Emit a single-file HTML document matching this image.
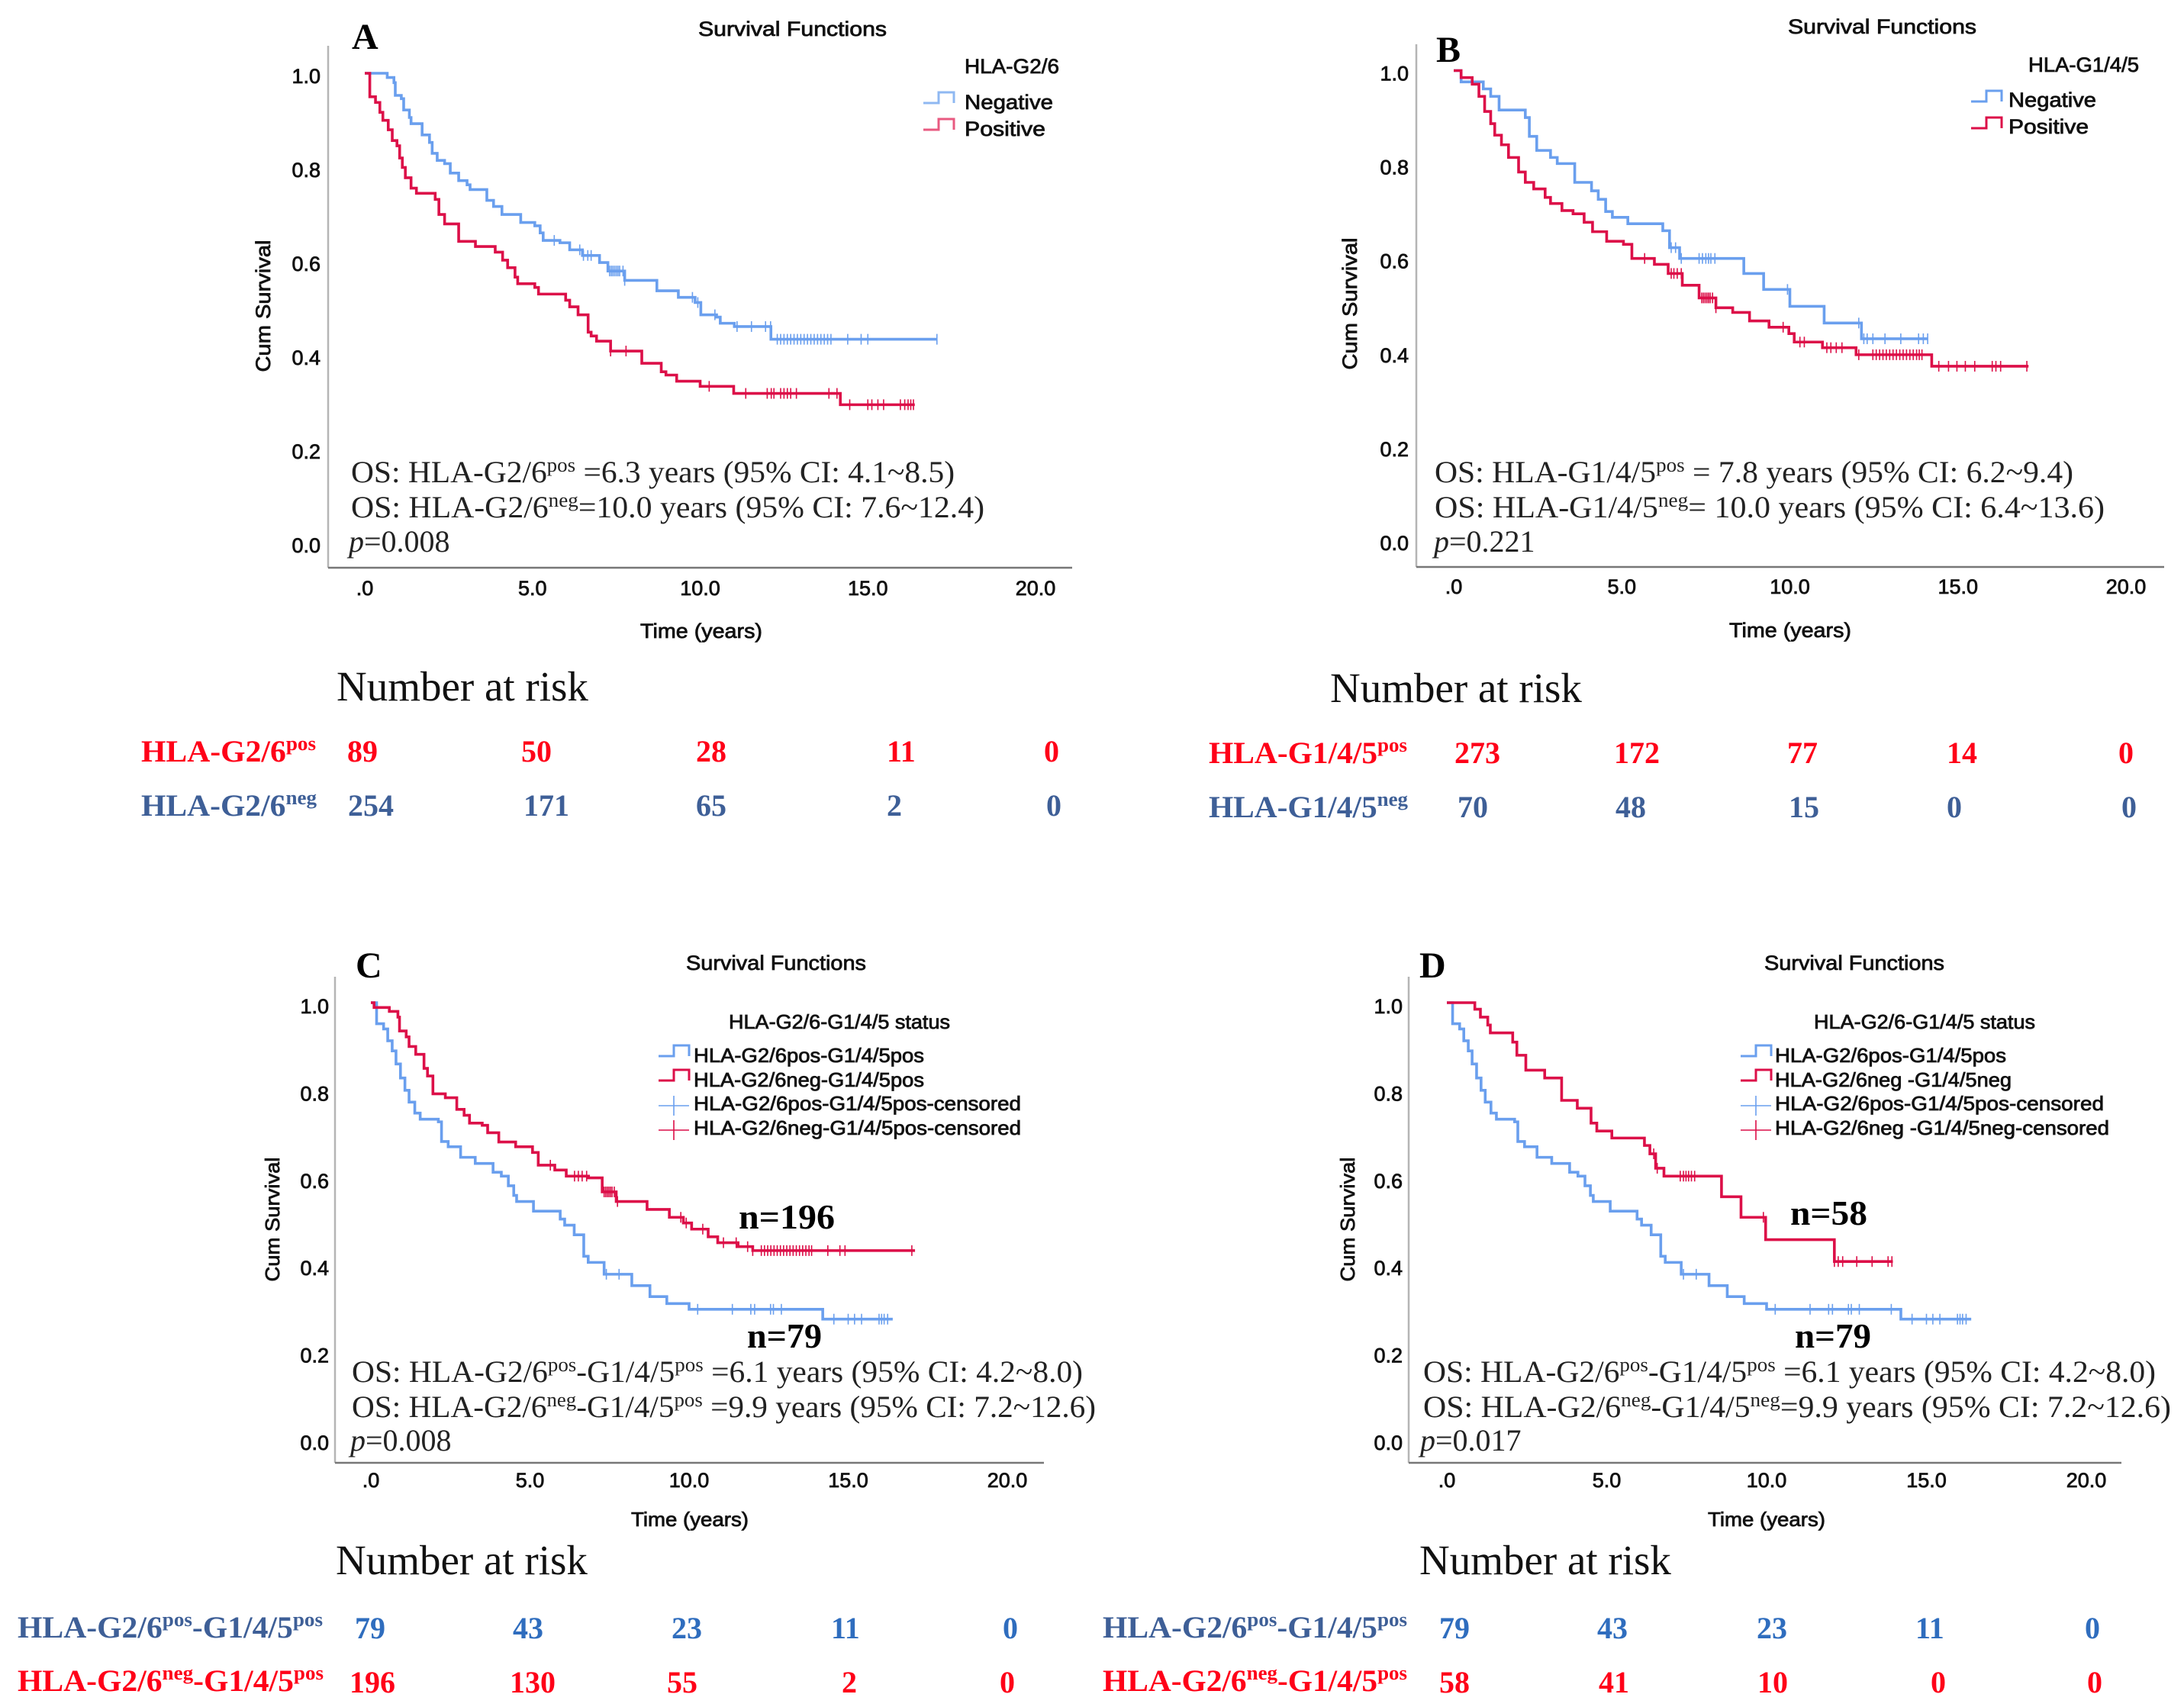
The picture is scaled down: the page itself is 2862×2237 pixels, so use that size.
<!DOCTYPE html>
<html lang="en">
<head>
<meta charset="utf-8">
<title>Survival Functions</title>
<style>
html,body{margin:0;padding:0;background:#fff;}
svg{display:block;}
.s{font-family:"Liberation Sans",sans-serif;fill:#111;stroke:#111;stroke-width:.8px;}
.o{font-family:"Liberation Serif",serif;font-size:40px;fill:#222;}
.h{font-family:"Liberation Serif",serif;font-size:55px;fill:#111;}
.l{font-family:"Liberation Serif",serif;font-size:48px;font-weight:bold;fill:#000;}
.n{font-family:"Liberation Serif",serif;font-size:46px;font-weight:bold;fill:#000;}
.r{font-family:"Liberation Serif",serif;font-size:40px;font-weight:bold;fill:#ff0018;}
.b{font-family:"Liberation Serif",serif;font-size:40px;font-weight:bold;fill:#3e5f97;}
.c{font-family:"Liberation Serif",serif;font-size:40px;font-weight:bold;fill:#2f6dbe;}
.t{font-size:27px;}
</style>
</head>
<body>
<svg id="fig" xmlns="http://www.w3.org/2000/svg" width="2862" height="2237" viewBox="0 0 2862 2237">
<rect width="2862" height="2237" fill="#fff"/>
<g id="marks"></g>

<!-- Panel A -->
<text class="l" x="461" y="64">A</text>
<text class="s" x="915" y="47" font-size="27" textLength="247" lengthAdjust="spacingAndGlyphs">Survival Functions</text>
<text class="s" font-size="27" text-anchor="middle" transform="translate(354,401) rotate(-90)" textLength="173" lengthAdjust="spacingAndGlyphs">Cum Survival</text>
<text class="s" x="839" y="836" font-size="27" textLength="160" lengthAdjust="spacingAndGlyphs">Time (years)</text>
<text class="s" x="1264" y="96" font-size="27" textLength="124" lengthAdjust="spacingAndGlyphs">HLA-G2/6</text>
<text class="s" x="1264" y="143" font-size="27" textLength="116" lengthAdjust="spacingAndGlyphs">Negative</text>
<text class="s" x="1264" y="178" font-size="27" textLength="106" lengthAdjust="spacingAndGlyphs">Positive</text>
<text class="o" x="460" y="632" textLength="791" lengthAdjust="spacingAndGlyphs">OS: HLA-G2/6<tspan dy="-14" font-size="26">pos</tspan><tspan dy="14"> =6.3 years (95% CI: 4.1~8.5)</tspan></text>
<text class="o" x="460" y="678" textLength="830" lengthAdjust="spacingAndGlyphs">OS: HLA-G2/6<tspan dy="-14" font-size="26">neg</tspan><tspan dy="14">=10.0 years (95% CI: 7.6~12.4)</tspan></text>
<text class="o" x="457" y="723"><tspan font-style="italic">p</tspan>=0.008</text>
<text class="h" x="441" y="918">Number at risk</text>
<text class="r" x="185" y="998" textLength="229" lengthAdjust="spacingAndGlyphs">HLA-G2/6<tspan dy="-15" font-size="26">pos</tspan></text>
<text class="b" x="185" y="1069" textLength="230" lengthAdjust="spacingAndGlyphs">HLA-G2/6<tspan dy="-15" font-size="26">neg</tspan></text>
<g class="r"><text x="455" y="998">89</text><text x="683" y="998">50</text><text x="912" y="998">28</text><text x="1162" y="998">11</text><text x="1368" y="998">0</text></g>
<g class="b"><text x="456" y="1069">254</text><text x="686" y="1069">171</text><text x="912" y="1069">65</text><text x="1162" y="1069">2</text><text x="1371" y="1069">0</text></g>

<!-- Panel B -->
<text class="l" x="1882" y="81">B</text>
<text class="s" x="2343" y="44" font-size="27" textLength="247" lengthAdjust="spacingAndGlyphs">Survival Functions</text>
<text class="s" font-size="27" text-anchor="middle" transform="translate(1778,398) rotate(-90)" textLength="173" lengthAdjust="spacingAndGlyphs">Cum Survival</text>
<text class="s" x="2266" y="835" font-size="27" textLength="160" lengthAdjust="spacingAndGlyphs">Time (years)</text>
<text class="s" x="2658" y="94" font-size="27" textLength="145" lengthAdjust="spacingAndGlyphs">HLA-G1/4/5</text>
<text class="s" x="2632" y="140" font-size="27" textLength="115" lengthAdjust="spacingAndGlyphs">Negative</text>
<text class="s" x="2632" y="175" font-size="27" textLength="105" lengthAdjust="spacingAndGlyphs">Positive</text>
<text class="o" x="1880" y="632" textLength="837" lengthAdjust="spacingAndGlyphs">OS: HLA-G1/4/5<tspan dy="-14" font-size="26">pos</tspan><tspan dy="14"> = 7.8 years (95% CI: 6.2~9.4)</tspan></text>
<text class="o" x="1880" y="678" textLength="878" lengthAdjust="spacingAndGlyphs">OS: HLA-G1/4/5<tspan dy="-14" font-size="26">neg</tspan><tspan dy="14">= 10.0 years (95% CI: 6.4~13.6)</tspan></text>
<text class="o" x="1879" y="723"><tspan font-style="italic">p</tspan>=0.221</text>
<text class="h" x="1743" y="920">Number at risk</text>
<text class="r" x="1584" y="1000" textLength="260" lengthAdjust="spacingAndGlyphs">HLA-G1/4/5<tspan dy="-15" font-size="26">pos</tspan></text>
<text class="b" x="1584" y="1071" textLength="261" lengthAdjust="spacingAndGlyphs">HLA-G1/4/5<tspan dy="-15" font-size="26">neg</tspan></text>
<g class="r"><text x="1906" y="1000">273</text><text x="2115" y="1000">172</text><text x="2342" y="1000">77</text><text x="2551" y="1000">14</text><text x="2776" y="1000">0</text></g>
<g class="b"><text x="1910" y="1071">70</text><text x="2117" y="1071">48</text><text x="2344" y="1071">15</text><text x="2551" y="1071">0</text><text x="2780" y="1071">0</text></g>

<!-- Panel C -->
<text class="l" x="466" y="1281">C</text>
<text class="s" x="899" y="1271" font-size="27" textLength="236" lengthAdjust="spacingAndGlyphs">Survival Functions</text>
<text class="s" font-size="26" text-anchor="middle" transform="translate(366,1598) rotate(-90)" textLength="163" lengthAdjust="spacingAndGlyphs">Cum Survival</text>
<text class="s" x="827" y="2000" font-size="26" textLength="154" lengthAdjust="spacingAndGlyphs">Time (years)</text>
<text class="s" x="955" y="1348" font-size="26" textLength="290" lengthAdjust="spacingAndGlyphs">HLA-G2/6-G1/4/5 status</text>
<text class="s" x="909" y="1392" font-size="26" textLength="302" lengthAdjust="spacingAndGlyphs">HLA-G2/6pos-G1/4/5pos</text>
<text class="s" x="909" y="1424" font-size="26" textLength="302" lengthAdjust="spacingAndGlyphs">HLA-G2/6neg-G1/4/5pos</text>
<text class="s" x="909" y="1455" font-size="26" textLength="429" lengthAdjust="spacingAndGlyphs">HLA-G2/6pos-G1/4/5pos-censored</text>
<text class="s" x="909" y="1487" font-size="26" textLength="429" lengthAdjust="spacingAndGlyphs">HLA-G2/6neg-G1/4/5pos-censored</text>
<text class="n" x="968" y="1610" textLength="126" lengthAdjust="spacingAndGlyphs">n=196</text>
<text class="n" x="979" y="1766" textLength="98" lengthAdjust="spacingAndGlyphs">n=79</text>
<text class="o" x="461" y="1811" textLength="958" lengthAdjust="spacingAndGlyphs">OS: HLA-G2/6<tspan dy="-14" font-size="26">pos</tspan><tspan dy="14">-G1/4/5</tspan><tspan dy="-14" font-size="26">pos</tspan><tspan dy="14"> =6.1 years (95% CI: 4.2~8.0)</tspan></text>
<text class="o" x="461" y="1857" textLength="975" lengthAdjust="spacingAndGlyphs">OS: HLA-G2/6<tspan dy="-14" font-size="26">neg</tspan><tspan dy="14">-G1/4/5</tspan><tspan dy="-14" font-size="26">pos</tspan><tspan dy="14"> =9.9 years (95% CI: 7.2~12.6)</tspan></text>
<text class="o" x="459" y="1901"><tspan font-style="italic">p</tspan>=0.008</text>
<text class="h" x="440" y="2063">Number at risk</text>
<text class="b" x="23" y="2146" textLength="400" lengthAdjust="spacingAndGlyphs">HLA-G2/6<tspan dy="-15" font-size="26">pos</tspan><tspan dy="15">-G1/4/5</tspan><tspan dy="-15" font-size="26">pos</tspan></text>
<text class="r" x="23" y="2216" textLength="401" lengthAdjust="spacingAndGlyphs">HLA-G2/6<tspan dy="-15" font-size="26">neg</tspan><tspan dy="15">-G1/4/5</tspan><tspan dy="-15" font-size="26">pos</tspan></text>
<g class="c"><text x="465" y="2147">79</text><text x="672" y="2147">43</text><text x="880" y="2147">23</text><text x="1089" y="2147">11</text><text x="1314" y="2147">0</text></g>
<g class="r"><text x="458" y="2218">196</text><text x="668" y="2218">130</text><text x="874" y="2218">55</text><text x="1103" y="2218">2</text><text x="1310" y="2218">0</text></g>

<!-- Panel D -->
<text class="l" x="1860" y="1281">D</text>
<text class="s" x="2312" y="1271" font-size="27" textLength="236" lengthAdjust="spacingAndGlyphs">Survival Functions</text>
<text class="s" font-size="26" text-anchor="middle" transform="translate(1775,1598) rotate(-90)" textLength="163" lengthAdjust="spacingAndGlyphs">Cum Survival</text>
<text class="s" x="2238" y="2000" font-size="26" textLength="154" lengthAdjust="spacingAndGlyphs">Time (years)</text>
<text class="s" x="2377" y="1348" font-size="26" textLength="290" lengthAdjust="spacingAndGlyphs">HLA-G2/6-G1/4/5 status</text>
<text class="s" x="2326" y="1392" font-size="26" textLength="303" lengthAdjust="spacingAndGlyphs">HLA-G2/6pos-G1/4/5pos</text>
<text class="s" x="2326" y="1424" font-size="26" textLength="310" lengthAdjust="spacingAndGlyphs">HLA-G2/6neg -G1/4/5neg</text>
<text class="s" x="2326" y="1455" font-size="26" textLength="431" lengthAdjust="spacingAndGlyphs">HLA-G2/6pos-G1/4/5pos-censored</text>
<text class="s" x="2326" y="1487" font-size="26" textLength="438" lengthAdjust="spacingAndGlyphs">HLA-G2/6neg -G1/4/5neg-censored</text>
<text class="n" x="2346" y="1605" textLength="101" lengthAdjust="spacingAndGlyphs">n=58</text>
<text class="n" x="2352" y="1766" textLength="100" lengthAdjust="spacingAndGlyphs">n=79</text>
<text class="o" x="1865" y="1811" textLength="960" lengthAdjust="spacingAndGlyphs">OS: HLA-G2/6<tspan dy="-14" font-size="26">pos</tspan><tspan dy="14">-G1/4/5</tspan><tspan dy="-14" font-size="26">pos</tspan><tspan dy="14"> =6.1 years (95% CI: 4.2~8.0)</tspan></text>
<text class="o" x="1865" y="1857" textLength="980" lengthAdjust="spacingAndGlyphs">OS: HLA-G2/6<tspan dy="-14" font-size="26">neg</tspan><tspan dy="14">-G1/4/5</tspan><tspan dy="-14" font-size="26">neg</tspan><tspan dy="14">=9.9 years (95% CI: 7.2~12.6)</tspan></text>
<text class="o" x="1861" y="1901"><tspan font-style="italic">p</tspan>=0.017</text>
<text class="h" x="1860" y="2063">Number at risk</text>
<text class="b" x="1445" y="2146" textLength="399" lengthAdjust="spacingAndGlyphs">HLA-G2/6<tspan dy="-15" font-size="26">pos</tspan><tspan dy="15">-G1/4/5</tspan><tspan dy="-15" font-size="26">pos</tspan></text>
<text class="r" x="1445" y="2216" textLength="399" lengthAdjust="spacingAndGlyphs">HLA-G2/6<tspan dy="-15" font-size="26">neg</tspan><tspan dy="15">-G1/4/5</tspan><tspan dy="-15" font-size="26">pos</tspan></text>
<g class="c"><text x="1886" y="2147">79</text><text x="2093" y="2147">43</text><text x="2302" y="2147">23</text><text x="2510" y="2147">11</text><text x="2732" y="2147">0</text></g>
<g class="r"><text x="1886" y="2218">58</text><text x="2095" y="2218">41</text><text x="2303" y="2218">10</text><text x="2530" y="2218">0</text><text x="2735" y="2218">0</text></g>
</svg>

<script>
const xTickValues = [0, 5, 10, 15, 20];
const xTickLabels = ['.0', '5.0', '10.0', '15.0', '20.0'];
const yTickValues = [0, 0.2, 0.4, 0.6, 0.8, 1];
const yTickLabels = ['0.0', '0.2', '0.4', '0.6', '0.8', '1.0'];

const aNegT = [0,.67,.87,.91,1.09,1.16,1.33,1.38,1.71,1.93,2.01,2.16,2.38,2.55,2.8,3.05,3.14,3.64,3.84,4.09,4.65,5.07,5.23,5.32,5.82,6.11,6.49,7,7.25,7.75,8.71,9.35,9.85,10.02,10.49,10.6,11.02,12.11,17.06];
const aNegS = [1,.991,.98,.953,.946,.922,.906,.893,.869,.853,.83,.815,.808,.788,.772,.763,.753,.73,.717,.7,.683,.676,.661,.645,.64,.625,.613,.598,.58,.56,.538,.524,.513,.487,.482,.469,.462,.435,.435];
const aNegC = [5.65,6.41,6.52,6.65,6.75,7.3,7.35,7.4,7.45,7.5,7.55,7.6,7.7,7.75,9.77,9.93,10.44,11.1,11.53,11.95,12.1,12.3,12.4,12.5,12.6,12.7,12.8,12.9,13,13.1,13.2,13.3,13.4,13.5,13.6,13.7,13.8,13.9,14.4,14.8,15,17.06];
const aPosT = [0,.15,.32,.45,.54,.7,.82,.96,1.04,1.12,1.21,1.38,1.54,2.1,2.21,2.38,2.8,3.3,3.89,4.11,4.26,4.48,4.56,5.07,5.18,5.99,6.11,6.36,6.66,6.75,6.91,7.33,8.26,8.84,8.98,9.3,10,11,14.18,16.4];
const aPosS = [1,.95,.938,.917,.9,.88,.857,.846,.82,.8,.778,.756,.745,.732,.7,.68,.643,.632,.62,.603,.587,.567,.553,.545,.531,.518,.504,.487,.45,.442,.431,.41,.384,.366,.359,.346,.335,.32,.296,.296];
const aPosC = [7.33,7.79,10.27,11.36,12,12.12,12.2,12.4,12.5,12.6,12.7,12.87,13.84,14.08,14.46,15,15.12,15.3,15.47,15.97,16.1,16.2,16.28,16.36];

const bNegT = [0,.22,.88,1.1,1.35,2.13,2.25,2.47,2.88,3.08,3.6,4.1,4.3,4.52,4.72,5.18,6.22,6.42,6.72,8.63,9.22,10,11.02,12.13,14.1];
const bNegS = [1,.976,.961,.945,.916,.9,.86,.83,.815,.802,.762,.744,.726,.7,.6875,.674,.659,.623,.6,.568,.534,.498,.4625,.429,.429];
const bNegC = [6.47,6.6,6.77,7.3,7.4,7.5,7.58,7.65,7.77,9.93,12.05,12.2,12.3,12.47,12.83,13.3,13.83,13.97,14.1];
const bPosT = [0,.22,.55,.75,.92,1.1,1.22,1.42,1.63,1.93,2.13,2.38,2.72,2.88,3.22,3.55,3.88,4.13,4.55,5.05,5.3,5.97,6.38,6.8,7.3,7.8,8.3,8.8,9.38,9.97,10.13,10.97,11.97,14.22,17.1];
const bPosS = [1,.985,.971,.945,.913,.887,.8625,.842,.815,.784,.762,.748,.73,.717,.702,.695,.677,.657,.6366,.63,.6,.5875,.568,.543,.516,.495,.485,.467,.4536,.44,.422,.41,.395,.3705,.3705];
const bPosC = [5.68,6.47,6.55,6.65,6.77,7.38,7.43,7.48,7.53,7.58,7.63,7.7,7.8,9.8,10.3,10.43,11.1,11.22,11.38,11.55,12.05,12.47,12.57,12.67,12.77,12.87,12.97,13.07,13.17,13.27,13.37,13.47,13.57,13.67,13.77,13.85,13.93,14.43,14.72,14.97,15.22,15.5,16.02,16.13,16.27,17.05];

const cNegT = [0,.1,.58,.85,.9,1.11,1.2,1.41,1.67,1.78,1.95,2.34,2.7,2.93,3.1,3.5,3.67,4.02,4.55,5.08,5.26,5.78,6.14,6.84,7.27,7.71,8.68,9.38,9.82,10.08,10.6,10.9,11.54,12,17.1];
const cNegS = [1,.989,.98,.967,.9355,.922,.9,.882,.85,.8326,.792,.783,.7565,.743,.725,.72,.703,.682,.671,.658,.629,.618,.604,.6,.568,.546,.528,.51,.497,.483,.4655,.452,.443,.434,.434];
const cNegC = [5.64,6.4,6.52,6.64,6.78,7.33,7.38,7.43,7.48,7.53,7.58,7.65,7.75,9.74,9.91,10.43,11.08,11.48,11.84,12,12.27,12.37,12.47,12.57,12.67,12.77,12.87,12.97,13.07,13.17,13.27,13.37,13.47,13.57,13.67,13.77,13.85,14.36,14.74,14.9,17];
const cPosT = [0,.18,.4,.53,.67,.79,.93,1.07,1.2,1.38,1.55,2.12,2.22,2.43,2.82,3.28,3.84,4.1,4.32,4.49,4.58,5.11,5.95,6.09,6.39,6.69,6.83,7.33,8.2,8.77,9.3,10,14.2,16.4];
const cPosS = [1,.952,.94,.913,.89,.86,.828,.8,.773,.748,.734,.728,.683,.671,.647,.633,.613,.604,.582,.56,.546,.524,.506,.492,.47,.421,.407,.38,.354,.329,.313,.3,.2775,.2775];
const cPosC = [7.4,7.8,10.27,11.36,11.94,12.06,12.56,12.65,12.9,14.55,15,15.2,15.42,15.97,16.05,16.13,16.24];

const dNegT = [0,.875,1.05,1.28,1.36,2.06,2.19,2.47,3.06,3.59,4.08,4.51,4.69,5.16,6.18,6.35,6.53,6.79,8.59,9.2,9.97,12.12,13.95];
const dNegS = [1,.985,.967,.949,.931,.91,.88,.846,.828,.777,.759,.725,.707,.691,.674,.655,.622,.604,.557,.51,.459,.409,.409];
const dNegC = [6.47,6.58,7.3,7.4,7.48,7.56,7.65,7.75,9.9,12.12,12.24,12.38,12.82,13.3,13.8,13.92];
const dPosT = [0,.18,.4,.53,.67,.79,.93,1.07,1.2,1.38,1.55,2.12,2.22,2.43,2.82,3.28,3.84,4.1,4.32,4.49,4.58,5.11,5.95,6.09,6.39,6.69,6.83,7.33,8.2,8.77,9.3,10,14.2,16.4];
const dPosS = [1,.952,.94,.913,.89,.86,.828,.8,.773,.748,.734,.728,.683,.671,.647,.633,.613,.604,.582,.56,.546,.524,.506,.492,.47,.421,.407,.38,.354,.329,.313,.3,.2775,.2775];
const dPosC = [7.4,7.8,10.27,11.36,11.94,12.06,12.56,12.65,12.9,13.9,14.55,15,15.2,15.42,15.97,16.05,16.13,16.24];

const SVGNS = 'http://www.w3.org/2000/svg';
const BLUE = '#6a9fee';
const RED = '#dc0f48';
const root = document.getElementById('marks');

function add(parent, tag) {
  const el = document.createElementNS(SVGNS, tag);
  parent.appendChild(el);
  return el;
}
function survivalAt(ts, ss, t) {
  let s = ss[0];
  for (let i = 0; i < ts.length; i++) { if (ts[i] <= t) s = ss[i]; }
  return s;
}
function drawSeries(name, g, sx, sy, ts, ss, cs, color) {
  let d = 'M' + sx(ts[0]) + ' ' + sy(ss[0]);
  for (let i = 1; i < ts.length; i++) {
    d += 'H' + sx(ts[i]) + 'V' + sy(ss[i]);
  }
  const line = add(g, 'path');
  
  
  line.setAttribute('d', d);
  line.setAttribute('fill', 'none');
  line.setAttribute('stroke', color);
  line.setAttribute('stroke-width', '3.6');
  cs.forEach(function (t) {
    const tick = add(g, 'line');
    
    
    const y = sy(survivalAt(ts, ss, t));
    tick.setAttribute('x1', sx(t));
    tick.setAttribute('x2', sx(t));
    tick.setAttribute('y1', y - 7);
    tick.setAttribute('y2', y + 7);
    tick.setAttribute('stroke', color);
    tick.setAttribute('stroke-width', '1.6');
  });
}
function drawAxes(name, g, axisX, axisTop, axisY, axisRight, sx, labelY, yLabelRight, xLabelY) {
  const yAxis = add(g, 'line');
  
  
  yAxis.setAttribute('x1', axisX);
  yAxis.setAttribute('x2', axisX);
  yAxis.setAttribute('y1', axisTop);
  yAxis.setAttribute('y2', axisY);
  yAxis.setAttribute('stroke', '#b5b5b5');
  yAxis.setAttribute('stroke-width', '2.5');
  const xAxis = add(g, 'line');
  
  
  xAxis.setAttribute('x1', axisX);
  xAxis.setAttribute('x2', axisRight);
  xAxis.setAttribute('y1', axisY);
  xAxis.setAttribute('y2', axisY);
  xAxis.setAttribute('stroke', '#777');
  xAxis.setAttribute('stroke-width', '2.5');
  xTickValues.forEach(function (v, i) {
    const label = add(g, 'text');
    
    
    label.setAttribute('class', 's t');
    label.setAttribute('x', sx(v));
    label.setAttribute('y', xLabelY);
    label.setAttribute('text-anchor', 'middle');
    label.textContent = xTickLabels[i];
  });
  yTickValues.forEach(function (v, i) {
    const label = add(g, 'text');
    
    
    label.setAttribute('class', 's t');
    label.setAttribute('x', yLabelRight);
    label.setAttribute('y', labelY(v));
    label.setAttribute('text-anchor', 'end');
    label.textContent = yTickLabels[i];
  });
}
function linearScale(d0, d1, r0, r1) {
  return function (v) { return r0 + (v - d0) * (r1 - r0) / (d1 - d0); };
}
function legendStep(g, name, x, y, color) {
  const p = add(g, 'path');
  
  
  p.setAttribute('d', 'M' + x + ' ' + (y + 12) + 'h20v-14h20v14');
  p.setAttribute('fill', 'none');
  p.setAttribute('stroke', color);
  p.setAttribute('stroke-width', '3');
}
function legendCensor(g, name, x, y, color) {
  const p = add(g, 'path');
  
  
  p.setAttribute('d', 'M' + x + ' ' + (y + 4) + 'h40M' + (x + 20) + ' ' + (y - 9) + 'v26');
  p.setAttribute('fill', 'none');
  p.setAttribute('stroke', color);
  p.setAttribute('stroke-width', '1.6');
}

const gA = add(root, 'g');


const xA = linearScale(0, 20, 478, 1357);
const yA = linearScale(0, 1, 713, 96);
drawAxes('panel-a', gA, 430, 60, 744, 1405, xA, linearScale(0, 1, 724, 109), 420, 780);
drawSeries('panel-a-negative', gA, xA, yA, aNegT, aNegS, aNegC, BLUE);
drawSeries('panel-a-positive', gA, xA, yA, aPosT, aPosS, aPosC, RED);
legendStep(gA, 'panel-a-legend-negative-key', 1210, 123, '#8fb8f2');
legendStep(gA, 'panel-a-legend-positive-key', 1210, 158, '#e85a80');

const gB = add(root, 'g');


const xB = linearScale(0, 20, 1905, 2786);
const yB = linearScale(0, 1, 708, 92.5);
drawAxes('panel-b', gB, 1856, 58, 743, 2836, xB, linearScale(0, 1, 721, 105.5), 1846, 778);
drawSeries('panel-b-negative', gB, xB, yB, bNegT, bNegS, bNegC, BLUE);
drawSeries('panel-b-positive', gB, xB, yB, bPosT, bPosS, bPosC, RED);
legendStep(gB, 'panel-b-legend-negative-key', 2583, 121, BLUE);
legendStep(gB, 'panel-b-legend-positive-key', 2583, 156, RED);

const gC = add(root, 'g');


const xC = linearScale(0, 20, 486, 1320);
const yC = linearScale(0, 1, 1888, 1314);
drawAxes('panel-c', gC, 439, 1280, 1917, 1368, xC, linearScale(0, 1, 1900, 1328), 431, 1949);
drawSeries('panel-c-pos', gC, xC, yC, cPosT, cPosS, cPosC, BLUE);
drawSeries('panel-c-neg', gC, xC, yC, cNegT, cNegS, cNegC, RED);
legendStep(gC, 'panel-c-legend-pos-key', 863, 1372, BLUE);
legendStep(gC, 'panel-c-legend-neg-key', 863, 1404, RED);
legendCensor(gC, 'panel-c-legend-pos-censored-key', 863, 1445, BLUE);
legendCensor(gC, 'panel-c-legend-neg-censored-key', 863, 1477, RED);

const gD = add(root, 'g');


const xD = linearScale(0, 20, 1896, 2734);
const yD = linearScale(0, 1, 1888, 1314);
drawAxes('panel-d', gD, 1846, 1280, 1917, 2780, xD, linearScale(0, 1, 1900, 1328), 1838, 1949);
drawSeries('panel-d-pos', gD, xD, yD, dPosT, dPosS, dPosC, BLUE);
drawSeries('panel-d-neg', gD, xD, yD, dNegT, dNegS, dNegC, RED);
legendStep(gD, 'panel-d-legend-pos-key', 2281, 1372, BLUE);
legendStep(gD, 'panel-d-legend-neg-key', 2281, 1404, RED);
legendCensor(gD, 'panel-d-legend-pos-censored-key', 2281, 1445, BLUE);
legendCensor(gD, 'panel-d-legend-neg-censored-key', 2281, 1477, RED);
</script>
</body>
</html>
